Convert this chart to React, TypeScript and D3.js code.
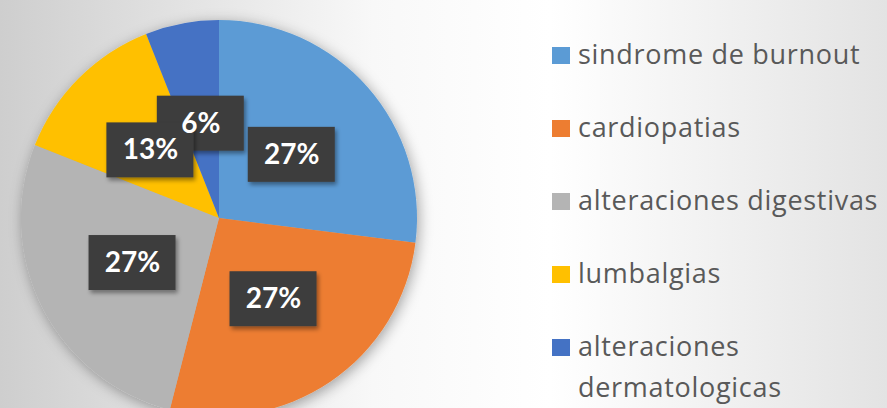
import React, { useRef, useEffect } from "react";
import * as d3 from "d3";

const categories = [
  "sindrome de burnout",
  "cardiopatias",
  "alteraciones digestivas",
  "lumbalgias",
  "alteraciones dermatologicas",
];
const values = [27, 27, 27, 13, 6];
const labels = ["27%", "27%", "27%", "13%", "6%"];
const colors = ["#5B9BD5", "#ED7D31", "#B4B4B4", "#FFC000", "#4472C4"];
const legendLines = [
  ["sindrome de burnout"],
  ["cardiopatias"],
  ["alteraciones digestivas"],
  ["lumbalgias"],
  ["alteraciones", "dermatologicas"],
];

const W = 887;
const H = 408;

const App = () => {
  const svgRef = useRef<SVGSVGElement>(null);

  useEffect(() => {
    const svg = d3.select(svgRef.current);
    svg.selectAll("*").remove();

    const defs = svg.append("defs");
    const grad = defs
      .append("linearGradient")
      .attr("id", "bg")
      .attr("x1", "0")
      .attr("x2", "1")
      .attr("y1", "0")
      .attr("y2", "0");
    grad.append("stop").attr("offset", "0").attr("stop-color", "#cecece");
    grad.append("stop").attr("offset", "0.42").attr("stop-color", "#f8f8f8");
    grad.append("stop").attr("offset", "0.62").attr("stop-color", "#ffffff");
    grad.append("stop").attr("offset", "1").attr("stop-color", "#e3e3e3");

    const shadow = defs.append("filter").attr("id", "sh").attr("x", "-20%").attr("y", "-20%").attr("width", "140%").attr("height", "140%");
    shadow
      .append("feDropShadow")
      .attr("dx", 2)
      .attr("dy", 3)
      .attr("stdDeviation", 7)
      .attr("flood-color", "#000")
      .attr("flood-opacity", 0.35);

    const boxShadow = defs.append("filter").attr("id", "bsh").attr("x", "-20%").attr("y", "-20%").attr("width", "150%").attr("height", "150%");
    boxShadow
      .append("feDropShadow")
      .attr("dx", 2)
      .attr("dy", 3)
      .attr("stdDeviation", 2)
      .attr("flood-color", "#000")
      .attr("flood-opacity", 0.4);

    svg.append("rect").attr("width", W).attr("height", H).attr("fill", "url(#bg)");

    const cx = 219;
    const cy = 218;
    const r = 198;

    const pie = d3.pie<number>().value((d) => d).sort(null);
    const arcs = pie(values);
    const arc = d3.arc<d3.PieArcDatum<number>>().innerRadius(0).outerRadius(r);
    const labelArc = d3.arc<d3.PieArcDatum<number>>().innerRadius(r * 0.49).outerRadius(r * 0.49);
    const pos = (d: d3.PieArcDatum<number>) => {
      const [x, y] = labelArc.centroid(d);
      return `translate(${x},${y})`;
    };

    const g = svg.append("g").attr("transform", `translate(${cx},${cy})`);
    g.append("g")
      .attr("filter", "url(#sh)")
      .selectAll("path")
      .data(arcs)
      .enter()
      .append("path")
      .attr("d", arc)
      .attr("fill", (d, i) => colors[i]);

    // boxes last-to-first so the 13% box sits above the 6% one, texts on top of all boxes
    g.append("g")
      .selectAll("rect")
      .data(arcs.slice().reverse())
      .enter()
      .append("rect")
      .attr("transform", pos)
      .attr("x", -44)
      .attr("y", -27)
      .attr("width", 87)
      .attr("height", 55)
      .attr("fill", "#3d3d3d")
      .attr("filter", "url(#bsh)");

    g.append("g")
      .selectAll("text")
      .data(arcs)
      .enter()
      .append("text")
      .attr("transform", pos)
      .attr("text-anchor", "middle")
      .attr("dy", "0.36em")
      .attr("fill", "#ffffff")
      .attr("font-family", "Lato, 'Open Sans', sans-serif")
      .attr("font-weight", "bold")
      .attr("font-size", 28)
      .text((d) => labels[d.index]);

    const legend = svg.append("g").attr("transform", "translate(552,0)");
    const rowY = d3.scalePoint<string>().domain(categories).range([55, 347]);
    const item = legend
      .selectAll("g")
      .data(categories)
      .enter()
      .append("g")
      .attr("transform", (d) => `translate(0,${rowY(d)})`);
    item
      .append("rect")
      .attr("x", 0)
      .attr("y", -8)
      .attr("width", 18)
      .attr("height", 17)
      .attr("fill", (d, i) => colors[i]);
    item
      .append("text")
      .attr("x", 26)
      .attr("fill", "#595959")
      .attr("font-family", "'Open Sans', Lato, sans-serif")
      .attr("font-size", 27)
      .attr("letter-spacing", 0.7)
      .selectAll("tspan")
      .data((d, i) => legendLines[i])
      .enter()
      .append("tspan")
      .attr("x", 26)
      .attr("y", (d, j) => j * 41)
      .attr("dy", "0.35em")
      .text((d) => d);
  }, []);

  return (
    <svg
      ref={svgRef}
      width={W}
      height={H}
      style={{ position: "absolute", left: 0, top: 0, display: "block" }}
    />
  );
};

export default App;
